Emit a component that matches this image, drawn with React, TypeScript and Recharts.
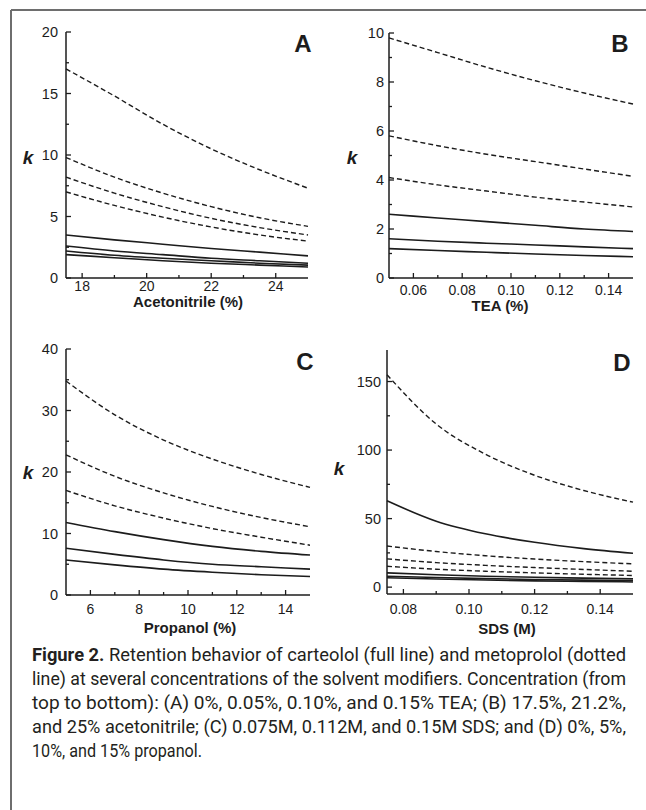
import React from "react"
import { LineChart, Line, XAxis, YAxis } from "recharts"

// Panel A: acetonitrile (%)
const acnX = [17.5, 19, 20.5, 22, 23.5, 25]
const acnMetoprolol = [
  [17.0, 14.8, 12.5, 10.5, 8.8, 7.3],
  [9.8, 8.2, 6.9, 5.8, 4.9, 4.2],
  [8.2, 6.9, 5.8, 4.85, 4.1, 3.5],
  [7.0, 5.9, 4.95, 4.15, 3.5, 3.0],
]
const acnCarteolol = [
  [3.5, 3.1, 2.75, 2.4, 2.1, 1.8],
  [2.6, 2.2, 1.9, 1.6, 1.4, 1.2],
  [2.2, 1.85, 1.6, 1.4, 1.2, 1.05],
  [1.9, 1.65, 1.4, 1.2, 1.05, 0.9],
]

// Panel B: TEA (%)
const teaX = [0.05, 0.07, 0.09, 0.11, 0.13, 0.15]
const teaMetoprolol = [
  [9.8, 9.2, 8.6, 8.05, 7.55, 7.1],
  [5.8, 5.4, 5.05, 4.75, 4.45, 4.15],
  [4.1, 3.8, 3.55, 3.3, 3.1, 2.9],
]
const teaCarteolol = [
  [2.6, 2.45, 2.3, 2.15, 2.0, 1.9],
  [1.6, 1.5, 1.42, 1.35, 1.27, 1.2],
  [1.2, 1.12, 1.05, 0.98, 0.92, 0.87],
]

// Panel C: propanol (%)
const propX = [5, 7, 9, 11, 13, 15]
const propMetoprolol = [
  [34.8, 29.3, 25.2, 22.1, 19.6, 17.5],
  [22.8, 19.3, 16.6, 14.4, 12.6, 11.1],
  [17.0, 14.5, 12.5, 10.8, 9.4, 8.1],
]
const propCarteolol = [
  [11.8, 10.3, 9.0, 7.9, 7.1, 6.5],
  [7.6, 6.6, 5.7, 5.0, 4.6, 4.2],
  [5.7, 4.9, 4.2, 3.7, 3.3, 3.0],
]

// Panel D: SDS (M)
const sdsX = [0.075, 0.09, 0.105, 0.12, 0.135, 0.15]
const sdsMetoprolol = [
  [155, 119, 97, 81.6, 70.5, 62],
  [30, 26, 22.9, 20.5, 18.6, 17],
  [20.6, 17.9, 15.9, 14.3, 12.9, 11.6],
  [15.2, 13.1, 11.6, 10.4, 9.4, 8.5],
]
const sdsCarteolol = [
  [63, 48.1, 38.9, 32.7, 28.1, 24.7],
  [10.4, 9.0, 8.0, 7.2, 6.6, 6.0],
  [8.0, 7.0, 6.2, 5.6, 5.1, 4.7],
  [6.8, 5.9, 5.2, 4.6, 4.2, 3.8],
]

// tick labels
const acnXMajor = [18, 20, 22, 24]
const acnXMinor = [19, 21, 23]
const acnYMajor = [0, 5, 10, 15, 20]
const acnYMinor = [2.5, 7.5, 12.5, 17.5]
const teaXMajor = [0.06, 0.08, 0.1, 0.12, 0.14]
const teaXMinor = [0.07, 0.09, 0.11, 0.13]
const teaYMajor = [0, 2, 4, 6, 8, 10]
const teaYMinor = [1, 3, 5, 7, 9]
const propXMajor = [6, 8, 10, 12, 14]
const propXMinor = [7, 9, 11, 13]
const propYMajor = [0, 10, 20, 30, 40]
const propYMinor = [5, 15, 25, 35]
const sdsXMajor = [0.08, 0.1, 0.12, 0.14]
const sdsXMinor = [0.09, 0.11, 0.13]
const sdsYMajor = [0, 50, 100, 150]
const sdsYMinor = [25, 75, 125]

const captionLines = [
  "line) at several concentrations of the solvent modifiers. Concentration (from",
  "top to bottom): (A) 0%, 0.05%, 0.10%, and 0.15% TEA; (B) 17.5%, 21.2%,",
  "and 25% acetonitrile; (C) 0.075M, 0.112M, and 0.15M SDS; and (D) 0%, 5%,",
]

const INK = "#1c1c1c"
const AXIS_FONT = "'Liberation Sans', Arial, Helvetica, sans-serif"
const CAPTION_FONT = "Roboto, 'Liberation Sans Narrow', 'Liberation Sans', sans-serif"

type PanelProps = {
  x: number[]
  metoprolol: number[][]
  carteolol: number[][]
  xDomain: [number, number]
  yDomain: [number, number]
  xMajor: number[]
  xMinor: number[]
  yMajor: number[]
  yMinor: number[]
  decimals: number
  box: { x0: number; x1: number; y0: number; y1: number }
  xLabelGap: number
  yLabelGap: number
}

function Panel(p: PanelProps) {
  const data = p.x.map((x, i) => {
    const row: Record<string, number> = { x }
    p.metoprolol.forEach((s, j) => (row[`m${j}`] = s[i]))
    p.carteolol.forEach((s, j) => (row[`c${j}`] = s[i]))
    return row
  })

  const padL = 60
  const padT = 15
  const padR = 12
  const padB = 40
  const w = p.box.x1 - p.box.x0 + padL + padR
  const h = p.box.y1 - p.box.y0 + padT + padB

  const xTick = (props: any) => {
    const v = props.payload.value
    const major = p.xMajor.includes(v)
    return (
      <g key={`xt-${v}`}>
        <line x1={props.x} x2={props.x} y1={props.y} y2={props.y - (major ? 5 : 3)} stroke={INK} strokeWidth={1.3} />
        {major && (
          <text
            x={props.x}
            y={props.y + p.xLabelGap}
            textAnchor="middle"
            dominantBaseline="central"
            fontSize={14}
            fontFamily={AXIS_FONT}
            fill={INK}
          >
            {v.toFixed(p.decimals)}
          </text>
        )}
      </g>
    )
  }

  const yTick = (props: any) => {
    const v = props.payload.value
    const major = p.yMajor.includes(v)
    return (
      <g key={`yt-${v}`}>
        <line x1={props.x} x2={props.x + (major ? 5 : 3)} y1={props.y} y2={props.y} stroke={INK} strokeWidth={1.3} />
        {major && (
          <text
            x={props.x - p.yLabelGap}
            y={props.y}
            textAnchor="end"
            dominantBaseline="central"
            fontSize={14.5}
            fontFamily={AXIS_FONT}
            fill={INK}
          >
            {v}
          </text>
        )}
      </g>
    )
  }

  return (
    <div style={{ position: "absolute", left: p.box.x0 - padL, top: p.box.y0 - padT }}>
      <LineChart
        width={w}
        height={h}
        data={data}
        margin={{ top: padT, right: padR, left: padL - 40, bottom: padB - 30 }}
      >
        <XAxis
          dataKey="x"
          type="number"
          domain={p.xDomain}
          ticks={[...p.xMajor, ...p.xMinor]}
          interval={0}
          height={30}
          tickSize={0}
          tickMargin={0}
          tickLine={false}
          tick={xTick}
          axisLine={{ stroke: INK, strokeWidth: 1.5 }}
        />
        <YAxis
          type="number"
          domain={p.yDomain}
          ticks={[...p.yMajor, ...p.yMinor]}
          interval={0}
          width={40}
          tickSize={0}
          tickMargin={0}
          tickLine={false}
          tick={yTick}
          axisLine={{ stroke: INK, strokeWidth: 1.5 }}
        />
        {p.metoprolol.map((_, j) => (
          <Line
            key={`m${j}`}
            dataKey={`m${j}`}
            type="monotone"
            stroke={INK}
            strokeWidth={1.4}
            strokeDasharray="5 3"
            dot={false}
            isAnimationActive={false}
          />
        ))}
        {p.carteolol.map((_, j) => (
          <Line
            key={`c${j}`}
            dataKey={`c${j}`}
            type="monotone"
            stroke={INK}
            strokeWidth={1.6}
            dot={false}
            isAnimationActive={false}
          />
        ))}
      </LineChart>
    </div>
  )
}

export default function App() {
  const kStyle = { fontSize: 19, fontWeight: 700, fontStyle: "italic", fontFamily: AXIS_FONT, fill: INK }
  const letterStyle = { fontSize: 24, fontWeight: 700, fontFamily: AXIS_FONT, fill: INK }
  const titleStyle = { fontSize: 15, fontWeight: 700, fontFamily: AXIS_FONT, fill: INK }

  return (
    <div style={{ position: "absolute", left: 0, top: 0, width: 646, height: 810, background: "#fff", overflow: "hidden" }}>
      <Panel
        x={acnX}
        metoprolol={acnMetoprolol}
        carteolol={acnCarteolol}
        xDomain={[17.5, 25]}
        yDomain={[0, 20]}
        xMajor={acnXMajor}
        xMinor={acnXMinor}
        yMajor={acnYMajor}
        yMinor={acnYMinor}
        decimals={0}
        box={{ x0: 66, x1: 308, y0: 32, y1: 278 }}
        xLabelGap={8}
        yLabelGap={8}
      />
      <Panel
        x={teaX}
        metoprolol={teaMetoprolol}
        carteolol={teaCarteolol}
        xDomain={[0.05, 0.15]}
        yDomain={[0, 10]}
        xMajor={teaXMajor}
        xMinor={teaXMinor}
        yMajor={teaYMajor}
        yMinor={teaYMinor}
        decimals={2}
        box={{ x0: 389, x1: 633, y0: 33, y1: 278 }}
        xLabelGap={12}
        yLabelGap={5}
      />
      <Panel
        x={propX}
        metoprolol={propMetoprolol}
        carteolol={propCarteolol}
        xDomain={[5, 15]}
        yDomain={[0, 40]}
        xMajor={propXMajor}
        xMinor={propXMinor}
        yMajor={propYMajor}
        yMinor={propYMinor}
        decimals={0}
        box={{ x0: 66, x1: 310, y0: 349, y1: 595 }}
        xLabelGap={14}
        yLabelGap={8}
      />
      <Panel
        x={sdsX}
        metoprolol={sdsMetoprolol}
        carteolol={sdsCarteolol}
        xDomain={[0.075, 0.15]}
        yDomain={[-5, 173]}
        xMajor={sdsXMajor}
        xMinor={sdsXMinor}
        yMajor={sdsYMajor}
        yMinor={sdsYMinor}
        decimals={2}
        box={{ x0: 387, x1: 633, y0: 350, y1: 594 }}
        xLabelGap={15}
        yLabelGap={6}
      />
      <svg width={646} height={810} style={{ position: "absolute", left: 0, top: 0, pointerEvents: "none" }}>
        <line x1={11} y1={10} x2={646} y2={10} stroke="#6e6e6e" strokeWidth={2} />
        <line x1={11} y1={10} x2={11} y2={810} stroke="#6e6e6e" strokeWidth={2} />

        <text x={28} y={157} textAnchor="middle" dominantBaseline="central" style={kStyle}>k</text>
        <text x={352} y={157} textAnchor="middle" dominantBaseline="central" style={kStyle}>k</text>
        <text x={28} y={472} textAnchor="middle" dominantBaseline="central" style={kStyle}>k</text>
        <text x={339} y={468} textAnchor="middle" dominantBaseline="central" style={kStyle}>k</text>

        <text x={303} y={43} textAnchor="middle" dominantBaseline="central" style={letterStyle}>A</text>
        <text x={620} y={43} textAnchor="middle" dominantBaseline="central" style={letterStyle}>B</text>
        <text x={305} y={361} textAnchor="middle" dominantBaseline="central" style={letterStyle}>C</text>
        <text x={622} y={362} textAnchor="middle" dominantBaseline="central" style={letterStyle}>D</text>

        <text x={188} y={301} textAnchor="middle" dominantBaseline="central" style={titleStyle}>Acetonitrile (%)</text>
        <text x={500} y={305} textAnchor="middle" dominantBaseline="central" style={titleStyle}>TEA (%)</text>
        <text x={190} y={627} textAnchor="middle" dominantBaseline="central" style={titleStyle}>Propanol (%)</text>
        <text x={507} y={628} textAnchor="middle" dominantBaseline="central" style={titleStyle}>SDS (M)</text>

        <g fontFamily={CAPTION_FONT} fontSize={17.5} fill="#231f20">
          <text x={32} y={661} textLength={594} lengthAdjust="spacingAndGlyphs">
            <tspan fontWeight={700}>Figure 2.</tspan> Retention behavior of carteolol (full line) and metoprolol (dotted
          </text>
          {captionLines.map((line, i) => (
            <text key={i} x={32} y={685 + i * 24} textLength={594} lengthAdjust="spacingAndGlyphs">
              {line}
            </text>
          ))}
          <text x={32} y={757} textLength={170} lengthAdjust="spacingAndGlyphs">
            10%, and 15% propanol.
          </text>
        </g>
      </svg>
    </div>
  )
}
